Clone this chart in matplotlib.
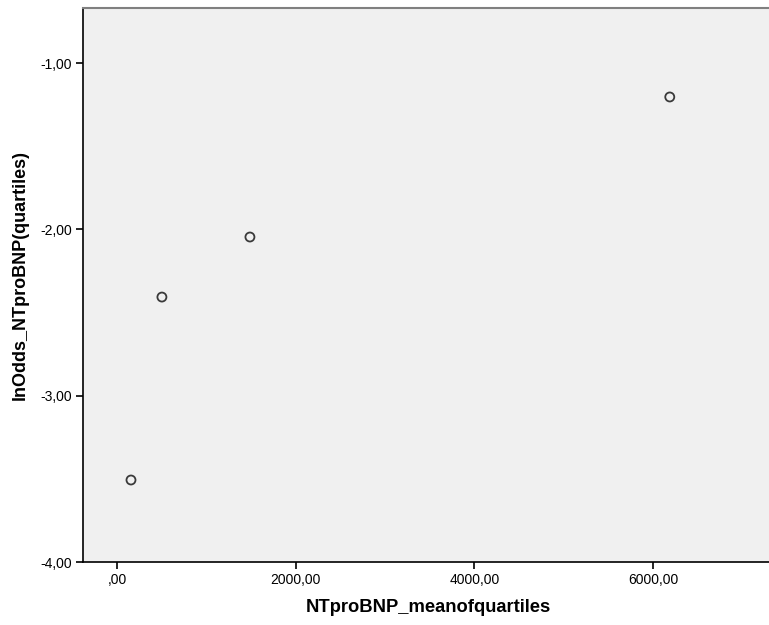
import matplotlib
matplotlib.use("Agg")
import matplotlib.pyplot as plt
from matplotlib.ticker import FuncFormatter

plt.rcParams['font.family'] = ['Liberation Sans', 'DejaVu Sans']

x_vals = [157, 503, 1488, 6186]
y_vals = [-3.507, -2.407, -2.046, -1.204]
x_ticks = [0, 2000, 4000, 6000]
y_ticks = [-4, -3, -2, -1]

fig = plt.figure(figsize=(7.69, 6.25), dpi=100)
W, H = 769, 625
ax = fig.add_axes([83 / W, 1 - 562 / H, (772 - 83) / W, (562 - 8) / H])
ax.set_facecolor('#F0F0F0')
ax.scatter(x_vals, y_vals, s=42, facecolors='none', edgecolors='#3a3a3a', linewidths=1.3, zorder=3)

ax.set_xlim(-380, 7330)
ax.set_ylim(-4, -0.669)
ax.set_xticks(x_ticks)
ax.set_yticks(y_ticks)

def fmt(v, pos):
    s = f"{v:.2f}".replace('.', ',')
    if s.startswith('0,'):
        s = s[1:]
    return s

ax.xaxis.set_major_formatter(FuncFormatter(fmt))
ax.yaxis.set_major_formatter(FuncFormatter(fmt))
ax.tick_params(axis='both', direction='out', length=5, width=1.2, labelsize=10, colors='black', pad=3)

for side in ['left', 'bottom']:
    ax.spines[side].set_color('black')
    ax.spines[side].set_linewidth(1.2)
ax.spines['top'].set_color('#808080')
ax.spines['top'].set_linewidth(1.5)
ax.spines['right'].set_visible(False)

ax.set_xlabel('NTproBNP_meanofquartiles', fontsize=13.2, fontweight='bold')
ax.set_ylabel('lnOdds_NTproBNP(quartiles)', fontsize=13, fontweight='bold')
ax.xaxis.set_label_coords((428 - 83) / (772 - 83), -(607 - 562) / (562 - 8), transform=None) if False else None
fig.text(428 / W, 1 - 607 / H, 'NTproBNP_meanofquartiles', fontsize=13.2, fontweight='bold', ha='center', va='center')
fig.text(20 / W, 1 - 275 / H, 'lnOdds_NTproBNP(quartiles)', fontsize=13, fontweight='bold', ha='center', va='center', rotation=90)
ax.set_xlabel('')
ax.set_ylabel('')

fig.savefig('out.png', dpi=100)
